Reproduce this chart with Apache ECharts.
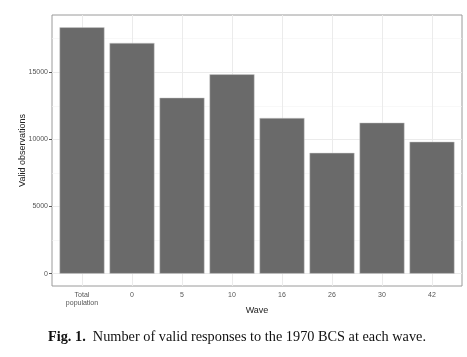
<!DOCTYPE html>
<html>
<head>
<meta charset="utf-8">
<script src="https://cdn.jsdelivr.net/npm/echarts@6/dist/echarts.min.js"></script>
<style>
html,body{margin:0;padding:0;background:#fff;}
#chart{width:467px;height:357px;}
</style>
</head>
<body>
<div id="chart"></div>
<script>
const categories = ['Total\npopulation', '0', '5', '10', '16', '26', '30', '42'];
const validObs = [18350, 17190, 13110, 14850, 11600, 9000, 11250, 9830];
const yMajorTicks = [0, 5000, 10000, 15000];
const yMinorTicks = [2500, 7500, 12500, 17500];
const yTickLabels = ['0', '5000', '10000', '15000'];

const maxV = Math.max(...validObs);
const yMin = -0.05 * maxV, yMax = 1.05 * maxV;
const xPos = categories.map((c, i) => i + 1);

const chart = echarts.init(document.getElementById('chart'));
const gridLines = [];
yMajorTicks.forEach(v => gridLines.push({yAxis: v, lineStyle: {color: '#ebebeb', width: 1, type: 'solid'}}));
yMinorTicks.forEach(v => gridLines.push({yAxis: v, lineStyle: {color: '#f4f4f4', width: 0.6, type: 'solid'}}));
xPos.forEach(v => gridLines.push({xAxis: v, lineStyle: {color: '#ebebeb', width: 1, type: 'solid'}}));

chart.setOption({
  animation: false,
  grid: {left: 52, right: 5, top: 15, bottom: 71, show: true, borderColor: '#9a9a9a', borderWidth: 1, backgroundColor: 'transparent'},
  xAxis: {
    type: 'value', min: 0.4, max: 8.6,
    name: 'Wave', nameLocation: 'middle', nameGap: 20, nameMoveOverlap: false,
    nameTextStyle: {fontFamily: 'Liberation Sans', fontSize: 9, color: '#222'},
    axisLine: {show: false},
    axisTick: {show: true, length: 3, customValues: xPos, lineStyle: {color: '#555'}},
    axisLabel: {customValues: xPos, margin: 5, fontFamily: 'Liberation Sans', fontSize: 7, color: '#555', lineHeight: 8,
      formatter: v => categories[Math.round(v) - 1] || ''},
    splitLine: {show: false}
  },
  yAxis: {
    type: 'value', min: yMin, max: yMax,
    name: 'Valid observations', nameLocation: 'middle', nameGap: 25, nameMoveOverlap: false,
    nameTextStyle: {fontFamily: 'Liberation Sans', fontSize: 9, color: '#222'},
    axisLine: {show: false},
    axisTick: {show: true, length: 3, customValues: yMajorTicks, lineStyle: {color: '#555'}},
    axisLabel: {customValues: yMajorTicks, margin: 4, fontFamily: 'Liberation Sans', fontSize: 7, color: '#555',
      formatter: v => yTickLabels[yMajorTicks.indexOf(v)] ?? ''},
    splitLine: {show: false}
  },
  series: [{
    type: 'bar', z: 2,
    data: xPos.map((x, i) => [x, validObs[i]]),
    barWidth: 45,
    itemStyle: {color: '#6a6a6a', borderColor: '#cfcfcf', borderWidth: 0.5},
    markLine: {silent: true, z: 1, symbol: 'none', label: {show: false}, animation: false, data: gridLines}
  }],
  graphic: [{
    type: 'text', left: 48, top: 330,
    style: {
      rich: {
        b: {fontFamily: 'Liberation Serif', fontSize: 14.3, fontWeight: 'bold', fill: '#111'},
        n: {fontFamily: 'Liberation Serif', fontSize: 14.3, fill: '#111'}
      },
      text: '{b|Fig. 1.}{n|  Number of valid responses to the 1970 BCS at each wave.}'
    }
  }]
});
</script>
</body>
</html>
